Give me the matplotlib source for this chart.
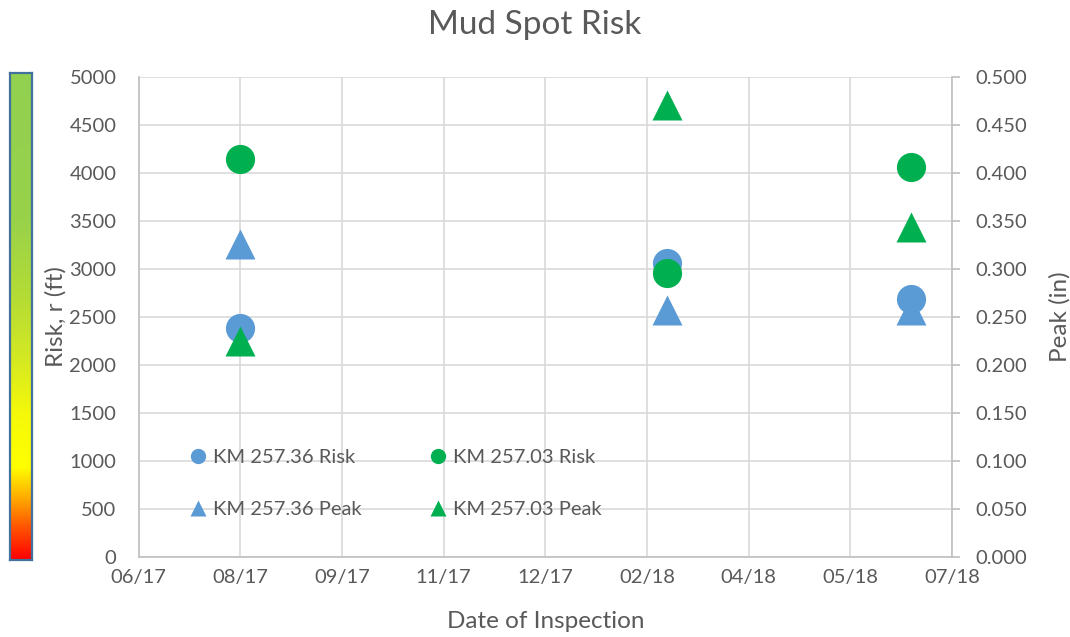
import numpy as np
import matplotlib
matplotlib.use("Agg")
import matplotlib.pyplot as plt
import matplotlib.dates as mdates
from matplotlib.colors import LinearSegmentedColormap
from matplotlib.lines import Line2D
import datetime as dt

plt.rcParams['font.family'] = ['Lato', 'DejaVu Sans']

# inspection dates and readings
dates = [dt.date(2017, 8, 3), dt.date(2018, 3, 1), dt.date(2018, 6, 29)]
risk_3607 = [2390, 3060, 2685]      # KM 257.36 Risk (ft)
risk_0300 = [4150, 2960, 4060]      # KM 257.03 Risk (ft)
peak_3607 = [0.326, 0.257, 0.257]   # KM 257.36 Peak (in)
peak_0300 = [0.225, 0.471, 0.344]   # KM 257.03 Peak (in)

x_start = dt.date(2017, 6, 14)
x_step = 50
n_steps = 8

BLUE = '#5B9BD5'
GREEN = '#00B050'
GREY = '#595959'
GRID = '#D9D9D9'

fig = plt.figure(figsize=(10.7, 6.37), dpi=100)
ax = fig.add_axes([0.1296, 0.1256, 0.7601, 0.7535])
ax2 = ax.twinx()

xd = mdates.date2num(dates)
ax.plot(xd, risk_3607, 'o', ms=21, color=BLUE, mec='none', zorder=3)
ax.plot(xd, risk_0300, 'o', ms=21, color=GREEN, mec='none', zorder=3)
ax2.plot(xd, peak_3607, '^', ms=21, color=BLUE, mec='none', zorder=3)
ax2.plot(xd, peak_0300, '^', ms=21, color=GREEN, mec='none', zorder=3)

x0 = mdates.date2num(x_start)
ax.set_xlim(x0, x0 + x_step * n_steps)
ax.set_xticks(x0 + x_step * np.arange(n_steps + 1))
ax.xaxis.set_major_formatter(mdates.DateFormatter('%m/%y'))

ax.set_ylim(0, 5000)
ax.set_yticks(np.arange(0, 5001, 500))
ax2.set_ylim(0, 0.5)
ax2.set_yticks(np.arange(0, 0.5001, 0.05))
ax2.set_yticklabels(['%.3f' % v for v in np.arange(0, 0.5001, 0.05)])

ax.grid(True, color=GRID, lw=1.2)
ax.set_axisbelow(True)
for a in (ax, ax2):
    for s in a.spines.values():
        s.set_visible(False)
ax.spines['left'].set_visible(True)
ax.spines['bottom'].set_visible(True)
ax2.spines['right'].set_visible(True)
for s in (ax.spines['left'], ax.spines['bottom'], ax2.spines['right']):
    s.set_color('#BFBFBF')
    s.set_linewidth(1.2)

ax.tick_params(axis='x', length=0, pad=9, labelsize=14.5, labelcolor=GREY)
ax.tick_params(axis='y', length=0, pad=16, labelsize=14.5, labelcolor=GREY)
ax2.tick_params(axis='y', length=6, width=1.2, color='#BFBFBF', pad=11,
                labelsize=14.5, labelcolor=GREY)

ax.set_xlabel('Date of Inspection', fontsize=17.5, color=GREY, labelpad=18)
ax.set_ylabel('Risk, r (ft)', fontsize=17.5, color=GREY, labelpad=2)
ax2.set_ylabel('Peak (in)', fontsize=17.5, color=GREY, labelpad=16)
fig.suptitle('Mud Spot Risk', fontsize=24, color=GREY, y=0.985)

handles = [
    Line2D([], [], ls='none', marker='o', ms=11, color=BLUE, mec='none'),
    Line2D([], [], ls='none', marker='^', ms=11, color=BLUE, mec='none'),
    Line2D([], [], ls='none', marker='o', ms=11, color=GREEN, mec='none'),
    Line2D([], [], ls='none', marker='^', ms=11, color=GREEN, mec='none'),
]
labels = ['KM 257.36 Risk', 'KM 257.36 Peak', 'KM 257.03 Risk', 'KM 257.03 Peak']
ax2.legend(handles, labels, ncol=2, frameon=False, loc='center left',
           bbox_to_anchor=(190 / 1070, 1 - 483.5 / 637),
           bbox_transform=fig.transFigure, fontsize=14.5, labelcolor=GREY,
           handlelength=0.8, handletextpad=0.33, labelspacing=1.75,
           columnspacing=3.4, borderpad=0, borderaxespad=0)

# colour bar on the left
cax = fig.add_axes([10 / 1070, 1 - 560 / 637, 22 / 1070, 487 / 637])
cmap = LinearSegmentedColormap.from_list('risk', [
    (0.0, '#FF0000'), (0.07, '#FF5A00'), (0.13, '#FFB000'),
    (0.19, '#FFFF00'), (0.3, '#F5F90A'), (0.42, '#D2E824'),
    (0.55, '#B2DB36'), (0.7, '#98D24A'), (1.0, '#92D050')])
grad = np.linspace(0, 1, 256).reshape(-1, 1)
cax.imshow(grad, aspect='auto', cmap=cmap, origin='lower',
           extent=[0, 1, 0, 1])
cax.set_xticks([])
cax.set_yticks([])
for s in cax.spines.values():
    s.set_color('#41719C')
    s.set_linewidth(1.6)

fig.savefig('out.png', dpi=100)
